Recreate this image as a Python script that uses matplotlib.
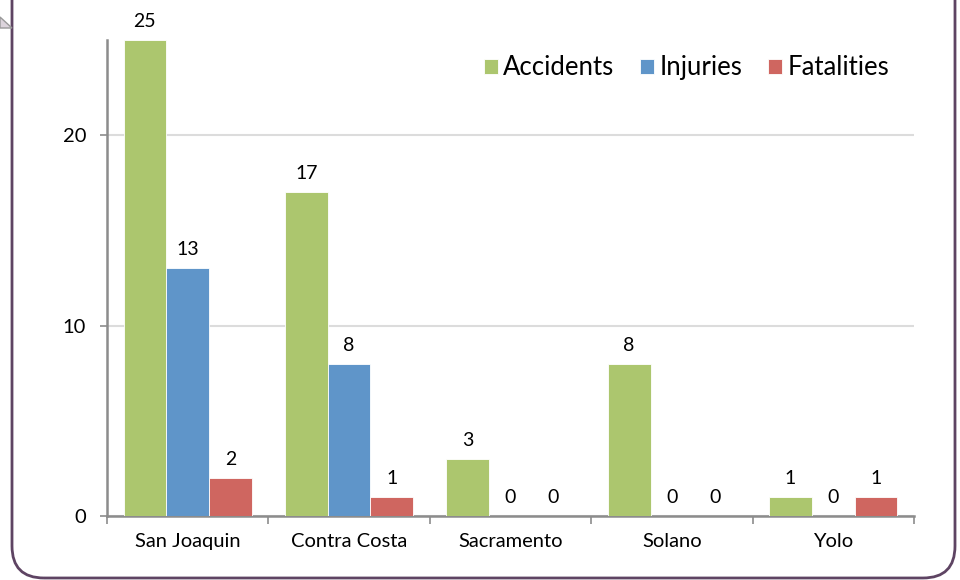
import numpy as np
import matplotlib.pyplot as plt
from matplotlib.patches import FancyBboxPatch, Polygon
from matplotlib.transforms import IdentityTransform

counties = ["San Joaquin", "Contra Costa", "Sacramento", "Solano", "Yolo"]
accidents = [25, 17, 3, 8, 1]
injuries = [13, 8, 0, 0, 0]
fatalities = [2, 1, 0, 0, 1]

series = [("Accidents", accidents, "#acc66e"),
          ("Injuries", injuries, "#5f95c9"),
          ("Fatalities", fatalities, "#cf6660")]

plt.rcParams['font.family'] = ['Lato', 'DejaVu Sans']

fig = plt.figure(figsize=(9.6, 5.8), dpi=100)
ax = fig.add_axes([107/960, 64/580, (914-107)/960, (516-40)/580])

x = np.arange(len(counties))
w = 0.265
for i, (name, vals, col) in enumerate(series):
    pos = x + (i - 1) * w
    ax.bar(pos, vals, w, color=col, edgecolor="white", linewidth=0.6, label=name, zorder=3)
    for px, v in zip(pos, vals):
        ax.annotate(str(v), (px, v), xytext=(0, 14.5), textcoords="offset points",
                    ha="center", va="center_baseline", fontsize=14, color="black")

ax.set_xlim(-0.5, len(counties) - 0.5)
ax.set_ylim(0, 25)
ax.set_yticks([0, 10, 20])
ax.set_xticks(x)
ax.set_xticklabels(counties)
ax.set_xticks(np.arange(-0.5, len(counties), 1), minor=True)
ax.tick_params(axis="x", which="major", length=0, pad=12, labelsize=14.5)
ax.tick_params(axis="x", which="minor", length=6, width=1.2, color="#8c8c8c")
ax.tick_params(axis="y", length=5, width=1.2, color="#8c8c8c", pad=10, labelsize=14.5)
ax.grid(axis="y", color="#dcdcdc", linewidth=1.5, zorder=0)
for s in ["top", "right"]:
    ax.spines[s].set_visible(False)
for s in ["left", "bottom"]:
    ax.spines[s].set_color("#8c8c8c")
    ax.spines[s].set_linewidth(1.8)

ax.legend(loc="upper right", bbox_to_anchor=(0.988, 1.0), ncol=3, frameon=False,
          fontsize=18.5, handlelength=0.55, handleheight=0.55, handletextpad=0.2,
          columnspacing=1.0, borderaxespad=0.2)

# rounded frame around the chart
frame = FancyBboxPatch((12, 2), 943, 700, boxstyle="round,pad=0,rounding_size=32",
                       transform=IdentityTransform(), facecolor="none",
                       edgecolor="#5e4463", linewidth=2, clip_on=False)
fig.add_artist(frame)
tail = Polygon([(0, 580-17), (12, 580-28), (0, 580-28)], closed=True,
               transform=IdentityTransform(), facecolor="#dcd4dc",
               edgecolor="#999999", linewidth=1, clip_on=False)
fig.add_artist(tail)

fig.savefig("out.png", dpi=100)
